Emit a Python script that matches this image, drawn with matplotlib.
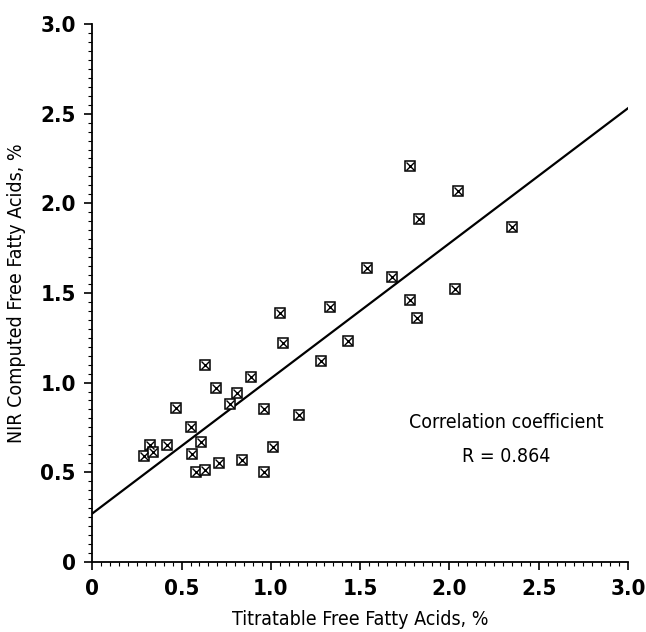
import matplotlib
matplotlib.use("Agg")
import matplotlib.pyplot as plt
from matplotlib.ticker import MultipleLocator, FixedFormatter, FixedLocator
import numpy as np

plt.rcParams['font.family'] = ['DejaVu Sans']
plt.rcParams['font.stretch'] = 'condensed'

# titratable FFA (%)
titratable = [0.29, 0.32, 0.34, 0.42, 0.47, 0.55, 0.56, 0.58, 0.63, 0.61,
              0.63, 0.69, 0.71, 0.77, 0.81, 0.84, 0.89, 0.96, 0.96, 1.01,
              1.05, 1.07, 1.16, 1.28, 1.33, 1.43, 1.54, 1.68, 1.78, 1.78,
              1.82, 1.83, 2.03, 2.05, 2.35]
# NIR computed FFA (%)
nir = [0.59, 0.65, 0.61, 0.65, 0.86, 0.75, 0.60, 0.50, 0.51, 0.67,
       1.10, 0.97, 0.55, 0.88, 0.94, 0.57, 1.03, 0.85, 0.50, 0.64,
       1.39, 1.22, 0.82, 1.12, 1.42, 1.23, 1.64, 1.59, 1.46, 2.21,
       1.36, 1.91, 1.52, 2.07, 1.87]

fit_x = [0.0, 3.0]
fit_y = [0.27, 2.53]

tick_vals = [0, 0.5, 1.0, 1.5, 2.0, 2.5, 3.0]
tick_text = ["0", "0.5", "1.0", "1.5", "2.0", "2.5", "3.0"]

fig = plt.figure(figsize=(6.46, 6.32), dpi=100)
ax = fig.add_axes([0.143, 0.111, 0.829, 0.851])

ax.plot(fit_x, fit_y, color='black', lw=1.6)
ax.plot(titratable, nir, ls='none', marker='s', ms=6.5, mfc='white', mec='black', mew=1.1)
ax.plot(titratable, nir, ls='none', marker='x', ms=5.5, mec='black', mew=1.0)

ax.set_xlim(0, 3.0)
ax.set_ylim(0, 3.0)
for s in ['top', 'right']:
    ax.spines[s].set_visible(False)
for s in ['left', 'bottom']:
    ax.spines[s].set_linewidth(1.3)

ax.xaxis.set_major_locator(FixedLocator(tick_vals))
ax.xaxis.set_major_formatter(FixedFormatter(tick_text))
ax.yaxis.set_major_locator(FixedLocator(tick_vals))
ax.yaxis.set_major_formatter(FixedFormatter(tick_text))
ax.xaxis.set_minor_locator(MultipleLocator(0.05))
ax.yaxis.set_minor_locator(MultipleLocator(0.05))
ax.tick_params(which='major', direction='out', length=6, width=1.2, labelsize=16, pad=6)
ax.tick_params(which='minor', direction='out', length=3, width=0.8)
for lab in ax.get_xticklabels() + ax.get_yticklabels():
    lab.set_fontweight('bold')

ax.set_xlabel("Titratable Free Fatty Acids, %", fontsize=14, labelpad=8)
ax.set_ylabel("NIR Computed Free Fatty Acids, %", fontsize=14, labelpad=10)

ax.text(2.32, 0.78, "Correlation coefficient", fontsize=14, ha='center', va='center')
ax.text(2.32, 0.585, "R = 0.864", fontsize=14, ha='center', va='center')

fig.savefig("out.png", dpi=100)
